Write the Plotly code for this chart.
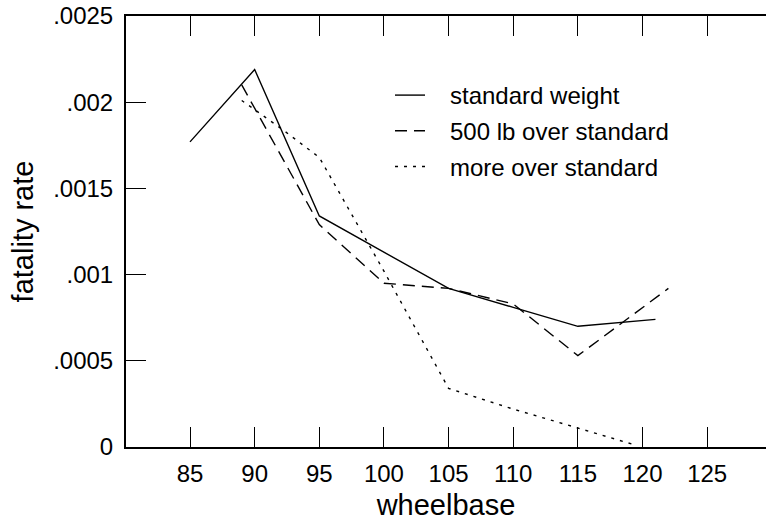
import plotly.graph_objects as go

# data
std_x = [85, 90, 95, 100, 105, 110, 115, 121]
std_y = [0.00177, 0.00219, 0.00134, 0.00113, 0.00092, 0.00081, 0.00070, 0.00074]

lb500_x = [89, 95, 100, 105, 110, 115, 122]
lb500_y = [0.00210, 0.00129, 0.00095, 0.00092, 0.00083, 0.00053, 0.00092]

more_x = [89, 92, 95, 100, 105, 110, 115, 119.5]
more_y = [0.00201, 0.00185, 0.00168, 0.00102, 0.00034, 0.00022, 0.00011, 0.00001]

x_ticks = [85, 90, 95, 100, 105, 110, 115, 120, 125]
y_ticks = [0, 0.0005, 0.001, 0.0015, 0.002, 0.0025]
y_tick_text = ["0", ".0005", ".001", ".0015", ".002", ".0025"]

names = ["standard weight", "500 lb over standard", "more over standard"]
pad = "\u00a0\u00a0\u00a0"

FONT = "Liberation Sans, Arial, sans-serif"

fig = go.Figure()
fig.add_trace(go.Scatter(x=std_x, y=std_y, mode="lines", name=pad + names[0],
                         legendgroup="a",
                         line=dict(color="black", width=1.4)))
fig.add_trace(go.Scatter(x=lb500_x, y=lb500_y, mode="lines", name=pad + names[1],
                         legendgroup="b",
                         line=dict(color="black", width=1.4, dash="12px,7px")))
fig.add_trace(go.Scatter(x=more_x, y=more_y, mode="lines", name=pad + names[2],
                         legendgroup="c",
                         line=dict(color="black", width=1.4, dash="3px,6px")))

fig.update_layout(
    width=766, height=521,
    margin=dict(l=126, r=0, t=16, b=74),
    paper_bgcolor="white", plot_bgcolor="white",
    font=dict(family=FONT, size=24, color="black"),
    showlegend=True,
    legend=dict(bgcolor="rgba(0,0,0,0)",
                font=dict(size=24), tracegroupgap=1.5, traceorder="grouped",
                itemwidth=30,
                x=(390 - 126) / 640, y=(447 - 73) / 431,
                xanchor="left", yanchor="top"),
    xaxis=dict(range=[80.05, 129.55], tickvals=x_ticks, ticks="inside", ticklen=20,
               tickwidth=1.3, tickcolor="black", showline=True, linecolor="black",
               linewidth=2, mirror="ticks", showgrid=False, zeroline=False,
               ticklabelstandoff=4,
               title=dict(text="wheelbase", standoff=14),
               tickfont=dict(size=24)),
    yaxis=dict(range=[0, 0.0025], tickvals=y_ticks, ticktext=y_tick_text,
               ticks="inside", ticklen=20, tickwidth=1.3, tickcolor="black",
               showline=True, linecolor="black", linewidth=2, mirror=False,
               showgrid=False, zeroline=False,
               ticklabelstandoff=6,
               title=dict(text="fatality rate", standoff=11),
               tickfont=dict(size=24)),
)

fig.write_html("out.html")
